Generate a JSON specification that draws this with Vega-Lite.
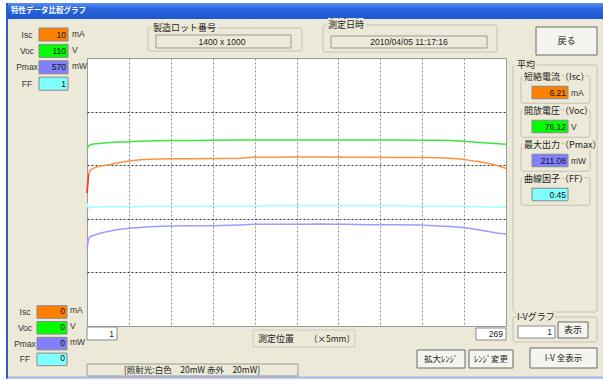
{
  "$schema": "https://vega.github.io/schema/vega-lite/v6.json",
  "width": 419,
  "height": 268,
  "autosize": "none",
  "padding": {"left": 87, "top": 58, "right": 97, "bottom": 54},
  "background": "#ECE9D8",
  "config": {
    "view": {"fill": "white", "stroke": "#9a9a9a"},
    "text": {"font": "Noto Sans CJK JP", "fontSize": 9, "color": "#222", "baseline": "middle"}
  },
  "datasets": {
    "trace": [
      {"pos": 1, "isc": 4.96, "voc": 72.6, "pmax": 165.3, "ff": 0.458},
      {"pos": 2, "isc": 5.67, "voc": 73.9, "pmax": 184.5, "ff": 0.44},
      {"pos": 3, "isc": 5.82, "voc": 74.3, "pmax": 190.0, "ff": 0.443},
      {"pos": 5, "isc": 5.88, "voc": 74.7, "pmax": 192.5, "ff": 0.444},
      {"pos": 7, "isc": 5.93, "voc": 74.85, "pmax": 194.8, "ff": 0.444},
      {"pos": 9, "isc": 5.96, "voc": 74.95, "pmax": 196.8, "ff": 0.445},
      {"pos": 12, "isc": 5.99, "voc": 75.1, "pmax": 199.5, "ff": 0.445},
      {"pos": 16, "isc": 6.03, "voc": 75.3, "pmax": 202.2, "ff": 0.445},
      {"pos": 21, "isc": 6.09, "voc": 75.5, "pmax": 205.0, "ff": 0.445},
      {"pos": 28, "isc": 6.16, "voc": 75.65, "pmax": 207.8, "ff": 0.445},
      {"pos": 35, "isc": 6.2, "voc": 75.85, "pmax": 209.6, "ff": 0.446},
      {"pos": 41, "isc": 6.22, "voc": 75.95, "pmax": 211.1, "ff": 0.446},
      {"pos": 54, "isc": 6.24, "voc": 76.1, "pmax": 212.7, "ff": 0.447},
      {"pos": 68, "isc": 6.245, "voc": 76.15, "pmax": 213.0, "ff": 0.447},
      {"pos": 81, "isc": 6.25, "voc": 76.2, "pmax": 213.3, "ff": 0.448},
      {"pos": 99, "isc": 6.26, "voc": 76.3, "pmax": 215.0, "ff": 0.448},
      {"pos": 107, "isc": 6.3, "voc": 76.3, "pmax": 216.3, "ff": 0.448},
      {"pos": 120, "isc": 6.3, "voc": 76.3, "pmax": 216.3, "ff": 0.449},
      {"pos": 134, "isc": 6.31, "voc": 76.3, "pmax": 216.3, "ff": 0.449},
      {"pos": 150, "isc": 6.31, "voc": 76.3, "pmax": 217.2, "ff": 0.449},
      {"pos": 166, "isc": 6.3, "voc": 76.3, "pmax": 216.5, "ff": 0.449},
      {"pos": 182, "isc": 6.3, "voc": 76.3, "pmax": 215.5, "ff": 0.449},
      {"pos": 198, "isc": 6.29, "voc": 76.3, "pmax": 215.5, "ff": 0.449},
      {"pos": 214, "isc": 6.29, "voc": 76.25, "pmax": 215.0, "ff": 0.448},
      {"pos": 226, "isc": 6.28, "voc": 76.2, "pmax": 212.8, "ff": 0.448},
      {"pos": 233, "isc": 6.26, "voc": 76.1, "pmax": 211.5, "ff": 0.447},
      {"pos": 240, "isc": 6.23, "voc": 75.9, "pmax": 209.9, "ff": 0.446},
      {"pos": 246, "isc": 6.18, "voc": 75.6, "pmax": 207.2, "ff": 0.446},
      {"pos": 252, "isc": 6.13, "voc": 75.35, "pmax": 204.2, "ff": 0.445},
      {"pos": 257, "isc": 6.07, "voc": 75.1, "pmax": 201.5, "ff": 0.444},
      {"pos": 262, "isc": 6.01, "voc": 74.9, "pmax": 198.4, "ff": 0.444},
      {"pos": 266, "isc": 5.94, "voc": 74.75, "pmax": 196.8, "ff": 0.443},
      {"pos": 269, "isc": 5.88, "voc": 74.6, "pmax": 195.7, "ff": 0.443}
    ],
    "readout": [
      {"series": "Isc", "max": "10", "min": "0", "unit": "mA", "name": "短絡電流（Isc）", "avg": "6.21"},
      {"series": "Voc", "max": "110", "min": "0", "unit": "V", "name": "開放電圧（Voc）", "avg": "76.12"},
      {"series": "Pmax", "max": "570", "min": "0", "unit": "mW", "name": "最大出力（Pmax）", "avg": "211.08"},
      {"series": "FF", "max": "1", "min": "0", "unit": "", "name": "曲線因子（FF）", "avg": "0.45"}
    ]
  },
  "layer": [
    {"data": {"values": [{}]}, "mark": {"type": "rect", "fill": "white"},
     "encoding": {"x": {"value": -87}, "x2": {"value": 516}, "y": {"value": -58}, "y2": {"value": -55}}},
    {"data": {"values": [{}]}, "mark": {"type": "rect", "fill": "white"},
     "encoding": {"x": {"value": -87}, "x2": {"value": -81}, "y": {"value": -58}, "y2": {"value": 322}}},
    {"data": {"values": [{}]}, "mark": {"type": "rect", "fill": "#F4F6FC"},
     "encoding": {"x": {"value": -87}, "x2": {"value": 516}, "y": {"value": 320.5}, "y2": {"value": 322}}},
    {"data": {"values": [{}]}, "mark": {"type": "rect", "fill": "#A3B4E6"},
     "encoding": {"x": {"value": -81}, "x2": {"value": 516}, "y": {"value": 318.5}, "y2": {"value": 320.5}}},
    {"data": {"values": [{}]}, "mark": {"type": "rect", "fill": "#2A5CD4"},
     "encoding": {"x": {"value": -81}, "x2": {"value": -79}, "y": {"value": -55}, "y2": {"value": 320.5}}},
    {"data": {"values": [{}]},
     "mark": {"type": "rect", "fill": {"gradient": "linear", "x1": 0, "y1": 0, "x2": 0, "y2": 1,
       "stops": [{"offset": 0, "color": "#5B90EC"}, {"offset": 0.35, "color": "#2A66DC"}, {"offset": 1, "color": "#1E57CE"}]}},
     "encoding": {"x": {"value": -79}, "x2": {"value": 516}, "y": {"value": -55}, "y2": {"value": -39}}},
    {"data": {"values": [{"t": "特性データ比較グラフ"}]},
     "mark": {"type": "text", "align": "left", "fontSize": 7.5, "fontWeight": "bold", "color": "white"},
     "encoding": {"text": {"field": "t"}, "x": {"value": -76}, "y": {"value": -47}}},

    {"data": {"values": [{}]}, "mark": {"type": "rect", "fill": null, "stroke": "#c4c1b1", "cornerRadius": 2},
     "encoding": {"x": {"value": 61}, "x2": {"value": 215}, "y": {"value": -30}, "y2": {"value": -7}}},
    {"data": {"values": [{"t": "製造ロット番号"}]},
     "mark": {"type": "text", "align": "left", "color": "#ECE9D8", "stroke": "#ECE9D8", "strokeWidth": 4},
     "encoding": {"text": {"field": "t"}, "x": {"value": 66}, "y": {"value": -30}}},
    {"data": {"values": [{"t": "製造ロット番号"}]}, "mark": {"type": "text", "align": "left"},
     "encoding": {"text": {"field": "t"}, "x": {"value": 66}, "y": {"value": -30}}},
    {"data": {"values": [{}]}, "mark": {"type": "rect", "fill": null, "stroke": "#9a9a9a"},
     "encoding": {"x": {"value": 69}, "x2": {"value": 204}, "y": {"value": -23}, "y2": {"value": -10}}},
    {"data": {"values": [{"t": "1400 x 1000"}]},
     "mark": {"type": "text", "align": "center", "font": "Liberation Sans", "fontSize": 8.5},
     "encoding": {"text": {"field": "t"}, "x": {"value": 135}, "y": {"value": -16}}},

    {"data": {"values": [{}]}, "mark": {"type": "rect", "fill": null, "stroke": "#c4c1b1", "cornerRadius": 2},
     "encoding": {"x": {"value": 236}, "x2": {"value": 410}, "y": {"value": -33}, "y2": {"value": -6}}},
    {"data": {"values": [{"t": "測定日時"}]},
     "mark": {"type": "text", "align": "left", "color": "#ECE9D8", "stroke": "#ECE9D8", "strokeWidth": 4},
     "encoding": {"text": {"field": "t"}, "x": {"value": 241}, "y": {"value": -33}}},
    {"data": {"values": [{"t": "測定日時"}]}, "mark": {"type": "text", "align": "left"},
     "encoding": {"text": {"field": "t"}, "x": {"value": 241}, "y": {"value": -33}}},
    {"data": {"values": [{}]}, "mark": {"type": "rect", "fill": null, "stroke": "#9a9a9a"},
     "encoding": {"x": {"value": 244}, "x2": {"value": 400}, "y": {"value": -22}, "y2": {"value": -10}}},
    {"data": {"values": [{"t": "2010/04/05 11:17:16"}]},
     "mark": {"type": "text", "align": "center", "font": "Liberation Sans", "fontSize": 8.5},
     "encoding": {"text": {"field": "t"}, "x": {"value": 322}, "y": {"value": -16}}},

    {"data": {"values": [{}]}, "mark": {"type": "rect", "fill": "#F5F4EF", "stroke": "#6a6a6a"},
     "encoding": {"x": {"value": 449}, "x2": {"value": 510}, "y": {"value": -31}, "y2": {"value": -3}}},
    {"data": {"values": [{"t": "戻る"}]}, "mark": {"type": "text", "align": "center"},
     "encoding": {"text": {"field": "t"}, "x": {"value": 479.5}, "y": {"value": -17}}},

    {"data": {"values": [{}]}, "mark": {"type": "rect", "fill": null, "stroke": "#c4c1b1", "cornerRadius": 2},
     "encoding": {"x": {"value": 426}, "x2": {"value": 510}, "y": {"value": 7}, "y2": {"value": 254}}},
    {"data": {"values": [{"t": "平均"}]},
     "mark": {"type": "text", "align": "left", "color": "#ECE9D8", "stroke": "#ECE9D8", "strokeWidth": 4},
     "encoding": {"text": {"field": "t"}, "x": {"value": 430}, "y": {"value": 7}}},
    {"data": {"values": [{"t": "平均"}]}, "mark": {"type": "text", "align": "left"},
     "encoding": {"text": {"field": "t"}, "x": {"value": 430}, "y": {"value": 7}}},

    {"data": {"values": [{}]}, "mark": {"type": "rect", "fill": null, "stroke": "#c4c1b1", "cornerRadius": 2},
     "encoding": {"x": {"value": 426}, "x2": {"value": 510}, "y": {"value": 259}, "y2": {"value": 284}}},
    {"data": {"values": [{"t": "I-Vグラフ"}]},
     "mark": {"type": "text", "align": "left", "color": "#ECE9D8", "stroke": "#ECE9D8", "strokeWidth": 4},
     "encoding": {"text": {"field": "t"}, "x": {"value": 430}, "y": {"value": 259}}},
    {"data": {"values": [{"t": "I-Vグラフ"}]}, "mark": {"type": "text", "align": "left"},
     "encoding": {"text": {"field": "t"}, "x": {"value": 430}, "y": {"value": 259}}},
    {"data": {"values": [{}]}, "mark": {"type": "rect", "fill": "white", "stroke": "#8a8a8a"},
     "encoding": {"x": {"value": 431}, "x2": {"value": 468}, "y": {"value": 268}, "y2": {"value": 280}}},
    {"data": {"values": [{"t": "1"}]}, "mark": {"type": "text", "align": "right", "font": "Liberation Sans", "fontSize": 8.5},
     "encoding": {"text": {"field": "t"}, "x": {"value": 465}, "y": {"value": 274}}},
    {"data": {"values": [{}]}, "mark": {"type": "rect", "fill": "#F5F4EF", "stroke": "#6a6a6a"},
     "encoding": {"x": {"value": 471}, "x2": {"value": 501}, "y": {"value": 264}, "y2": {"value": 280}}},
    {"data": {"values": [{"t": "表示"}]}, "mark": {"type": "text", "align": "center"},
     "encoding": {"text": {"field": "t"}, "x": {"value": 486}, "y": {"value": 272}}},

    {"data": {"values": [{}]}, "mark": {"type": "rect", "fill": "white", "stroke": "#8a8a8a"},
     "encoding": {"x": {"value": 0}, "x2": {"value": 30}, "y": {"value": 269}, "y2": {"value": 282}}},
    {"data": {"values": [{"t": "1"}]}, "mark": {"type": "text", "align": "right", "font": "Liberation Sans", "fontSize": 8.5},
     "encoding": {"text": {"field": "t"}, "x": {"value": 27}, "y": {"value": 275.5}}},
    {"data": {"values": [{}]}, "mark": {"type": "rect", "fill": "white", "stroke": "#8a8a8a"},
     "encoding": {"x": {"value": 389}, "x2": {"value": 419}, "y": {"value": 270}, "y2": {"value": 282}}},
    {"data": {"values": [{"t": "269"}]}, "mark": {"type": "text", "align": "right", "font": "Liberation Sans", "fontSize": 8.5},
     "encoding": {"text": {"field": "t"}, "x": {"value": 416}, "y": {"value": 276}}},
    {"data": {"values": [{}]}, "mark": {"type": "rect", "fill": null, "stroke": "#cfcbbd"},
     "encoding": {"x": {"value": 166}, "x2": {"value": 268}, "y": {"value": 272}, "y2": {"value": 289}}},
    {"data": {"values": [{"t": "測定位置"}]}, "mark": {"type": "text", "align": "left"},
     "encoding": {"text": {"field": "t"}, "x": {"value": 171}, "y": {"value": 280.5}}},
    {"data": {"values": [{"t": "（×5mm）"}]}, "mark": {"type": "text", "align": "left", "fontSize": 8.5},
     "encoding": {"text": {"field": "t"}, "x": {"value": 222}, "y": {"value": 280.5}}},
    {"data": {"values": [{}]}, "mark": {"type": "rect", "fill": null, "stroke": "#9a9a9a"},
     "encoding": {"x": {"value": 0}, "x2": {"value": 211}, "y": {"value": 306}, "y2": {"value": 318}}},
    {"data": {"values": [{"t": "[照射光:白色　20mW 赤外　20mW]"}]}, "mark": {"type": "text", "align": "center", "fontSize": 8.5},
     "encoding": {"text": {"field": "t"}, "x": {"value": 105}, "y": {"value": 312}}},

    {"data": {"values": [{}]}, "mark": {"type": "rect", "fill": "#F5F4EF", "stroke": "#6a6a6a"},
     "encoding": {"x": {"value": 330}, "x2": {"value": 378}, "y": {"value": 292}, "y2": {"value": 310}}},
    {"data": {"values": [{"t": "拡大ﾚﾝｼﾞ"}]}, "mark": {"type": "text", "align": "center", "fontSize": 8.5},
     "encoding": {"text": {"field": "t"}, "x": {"value": 354}, "y": {"value": 301}}},
    {"data": {"values": [{}]}, "mark": {"type": "rect", "fill": "#F5F4EF", "stroke": "#6a6a6a"},
     "encoding": {"x": {"value": 382}, "x2": {"value": 426}, "y": {"value": 292}, "y2": {"value": 310}}},
    {"data": {"values": [{"t": "ﾚﾝｼﾞ変更"}]}, "mark": {"type": "text", "align": "center", "fontSize": 8.5},
     "encoding": {"text": {"field": "t"}, "x": {"value": 404}, "y": {"value": 301}}},
    {"data": {"values": [{}]}, "mark": {"type": "rect", "fill": "#F5F4EF", "stroke": "#6a6a6a"},
     "encoding": {"x": {"value": 443}, "x2": {"value": 510}, "y": {"value": 290}, "y2": {"value": 310}}},
    {"data": {"values": [{"t": "I-V 全表示"}]}, "mark": {"type": "text", "align": "center", "fontSize": 8.5},
     "encoding": {"text": {"field": "t"}, "x": {"value": 476.5}, "y": {"value": 300}}},

    {"data": {"name": "readout"}, "mark": {"type": "rect", "stroke": "#8a8a8a", "strokeWidth": 1},
     "encoding": {
       "x": {"value": -48}, "x2": {"value": -19},
       "y": {"field": "series", "type": "nominal", "axis": null, "sort": null,
             "scale": {"type": "band", "domain": ["Isc", "Voc", "Pmax", "FF"], "range": [-31.7, 33.9], "paddingInner": 0.207, "paddingOuter": 0.1035}},
       "color": {"field": "series", "type": "nominal", "legend": null,
                 "scale": {"domain": ["Isc", "Voc", "Pmax", "FF"], "range": ["#FF8000", "#00FF00", "#8080FF", "#80FFFF"]}}}},
    {"data": {"name": "readout"}, "mark": {"type": "text", "align": "center", "font": "Liberation Sans", "fontSize": 8.5, "color": "#333"},
     "encoding": {"text": {"field": "series"}, "x": {"value": -60},
       "y": {"field": "series", "type": "nominal", "axis": null, "sort": null,
             "scale": {"type": "band", "domain": ["Isc", "Voc", "Pmax", "FF"], "range": [-31.7, 33.9], "paddingInner": 0.207, "paddingOuter": 0.1035}}}},
    {"data": {"name": "readout"}, "mark": {"type": "text", "align": "right", "font": "Liberation Sans", "fontSize": 8.5, "color": "#111"},
     "encoding": {"text": {"field": "max"}, "x": {"value": -21},
       "y": {"field": "series", "type": "nominal", "axis": null, "sort": null,
             "scale": {"type": "band", "domain": ["Isc", "Voc", "Pmax", "FF"], "range": [-31.7, 33.9], "paddingInner": 0.207, "paddingOuter": 0.1035}}}},
    {"data": {"name": "readout"}, "mark": {"type": "text", "align": "left", "font": "Liberation Sans", "fontSize": 8.5, "color": "#333", "dy": -1},
     "encoding": {"text": {"field": "unit"}, "x": {"value": -15},
       "y": {"field": "series", "type": "nominal", "axis": null, "sort": null,
             "scale": {"type": "band", "domain": ["Isc", "Voc", "Pmax", "FF"], "range": [-31.7, 33.9], "paddingInner": 0.207, "paddingOuter": 0.1035}}}},

    {"data": {"name": "readout"}, "mark": {"type": "rect", "stroke": "#8a8a8a", "strokeWidth": 1},
     "encoding": {
       "x": {"value": -50}, "x2": {"value": -20},
       "y": {"field": "series", "type": "nominal", "axis": null, "sort": null,
             "scale": {"type": "band", "domain": ["Isc", "Voc", "Pmax", "FF"], "range": [246.1, 309.3], "paddingInner": 0.209, "paddingOuter": 0.104}},
       "color": {"field": "series", "type": "nominal", "legend": null,
                 "scale": {"domain": ["Isc", "Voc", "Pmax", "FF"], "range": ["#FF8000", "#00FF00", "#8080FF", "#80FFFF"]}}}},
    {"data": {"name": "readout"}, "mark": {"type": "text", "align": "center", "font": "Liberation Sans", "fontSize": 8.5, "color": "#333"},
     "encoding": {"text": {"field": "series"}, "x": {"value": -62},
       "y": {"field": "series", "type": "nominal", "axis": null, "sort": null,
             "scale": {"type": "band", "domain": ["Isc", "Voc", "Pmax", "FF"], "range": [246.1, 309.3], "paddingInner": 0.209, "paddingOuter": 0.104}}}},
    {"data": {"name": "readout"}, "mark": {"type": "text", "align": "right", "font": "Liberation Sans", "fontSize": 8.5, "color": "#111", "dy": -1},
     "encoding": {"text": {"field": "min"}, "x": {"value": -22},
       "y": {"field": "series", "type": "nominal", "axis": null, "sort": null,
             "scale": {"type": "band", "domain": ["Isc", "Voc", "Pmax", "FF"], "range": [246.1, 309.3], "paddingInner": 0.209, "paddingOuter": 0.104}}}},
    {"data": {"name": "readout"}, "mark": {"type": "text", "align": "left", "font": "Liberation Sans", "fontSize": 8.5, "color": "#333", "dy": -2},
     "encoding": {"text": {"field": "unit"}, "x": {"value": -17},
       "y": {"field": "series", "type": "nominal", "axis": null, "sort": null,
             "scale": {"type": "band", "domain": ["Isc", "Voc", "Pmax", "FF"], "range": [246.1, 309.3], "paddingInner": 0.209, "paddingOuter": 0.104}}}},

    {"data": {"name": "readout"}, "mark": {"type": "rect", "fill": null, "stroke": "#c4c1b1", "cornerRadius": 2},
     "encoding": {
       "x": {"value": 434}, "x2": {"value": 503},
       "y": {"field": "series", "type": "nominal", "axis": null, "sort": null,
             "scale": {"type": "band", "domain": ["Isc", "Voc", "Pmax", "FF"], "range": [14.5, 150.5], "paddingInner": 0.191, "paddingOuter": 0.0956}}}},
    {"data": {"name": "readout"}, "mark": {"type": "rect", "stroke": "#8a8a8a", "strokeWidth": 1},
     "encoding": {
       "x": {"value": 445}, "x2": {"value": 481},
       "y": {"field": "series", "type": "nominal", "axis": null, "sort": null,
             "scale": {"type": "band", "domain": ["Isc", "Voc", "Pmax", "FF"], "range": [17.5, 153.5], "paddingInner": 0.632, "paddingOuter": 0.316}},
       "color": {"field": "series", "type": "nominal", "legend": null,
                 "scale": {"domain": ["Isc", "Voc", "Pmax", "FF"], "range": ["#FF8000", "#00FF00", "#8080FF", "#80FFFF"]}}}},
    {"data": {"name": "readout"}, "mark": {"type": "text", "align": "left", "dy": -16, "color": "#ECE9D8", "stroke": "#ECE9D8", "strokeWidth": 4},
     "encoding": {"text": {"field": "name"}, "x": {"value": 437},
       "y": {"field": "series", "type": "nominal", "axis": null, "sort": null,
             "scale": {"type": "band", "domain": ["Isc", "Voc", "Pmax", "FF"], "range": [17.5, 153.5], "paddingInner": 0.632, "paddingOuter": 0.316}}}},
    {"data": {"name": "readout"}, "mark": {"type": "text", "align": "left", "dy": -16},
     "encoding": {"text": {"field": "name"}, "x": {"value": 437},
       "y": {"field": "series", "type": "nominal", "axis": null, "sort": null,
             "scale": {"type": "band", "domain": ["Isc", "Voc", "Pmax", "FF"], "range": [17.5, 153.5], "paddingInner": 0.632, "paddingOuter": 0.316}}}},
    {"data": {"name": "readout"}, "mark": {"type": "text", "align": "right", "font": "Liberation Sans", "fontSize": 8.5, "color": "#111"},
     "encoding": {"text": {"field": "avg"}, "x": {"value": 479},
       "y": {"field": "series", "type": "nominal", "axis": null, "sort": null,
             "scale": {"type": "band", "domain": ["Isc", "Voc", "Pmax", "FF"], "range": [17.5, 153.5], "paddingInner": 0.632, "paddingOuter": 0.316}}}},
    {"data": {"name": "readout"}, "mark": {"type": "text", "align": "left", "font": "Liberation Sans", "fontSize": 8.5, "color": "#333"},
     "encoding": {"text": {"field": "unit"}, "x": {"value": 484},
       "y": {"field": "series", "type": "nominal", "axis": null, "sort": null,
             "scale": {"type": "band", "domain": ["Isc", "Voc", "Pmax", "FF"], "range": [17.5, 153.5], "paddingInner": 0.632, "paddingOuter": 0.316}}}},

    {
      "data": {"name": "trace"},
      "encoding": {
        "x": {"field": "pos", "type": "quantitative",
              "scale": {"domain": [1, 269], "nice": false, "zero": false},
              "axis": {"values": [27.8, 54.6, 81.4, 108.2, 135, 161.8, 188.6, 215.4, 242.2],
                       "grid": true, "gridColor": "#8c8c8c", "gridDash": [2, 2], "gridWidth": 1,
                       "labels": false, "ticks": false, "domain": false, "title": null}}
      },
      "layer": [
        {"mark": {"type": "line", "color": "#A0FFFF", "strokeWidth": 1.5},
         "encoding": {"y": {"field": "ff", "type": "quantitative",
           "scale": {"domain": [0, 1], "nice": false},
           "axis": {"values": [0.2, 0.4, 0.6, 0.8], "grid": true, "gridColor": "#333", "gridDash": [2, 2], "gridWidth": 1,
                    "labels": false, "ticks": false, "domain": false, "title": null}}}},
        {"mark": {"type": "line", "color": "#9C9CFF", "strokeWidth": 1.5},
         "encoding": {"y": {"field": "pmax", "type": "quantitative", "scale": {"domain": [0, 570], "nice": false}, "axis": null}}},
        {"mark": {"type": "line", "color": "#FF9040", "strokeWidth": 1.5},
         "encoding": {"y": {"field": "isc", "type": "quantitative", "scale": {"domain": [0, 10], "nice": false}, "axis": null}}},
        {"transform": [{"filter": "datum.pos <= 2"}],
         "mark": {"type": "line", "color": "#EE3333", "strokeWidth": 1.5},
         "encoding": {"y": {"field": "isc", "type": "quantitative", "scale": {"domain": [0, 10], "nice": false}, "axis": null}}},
        {"mark": {"type": "line", "color": "#3CE83C", "strokeWidth": 1.5},
         "encoding": {"y": {"field": "voc", "type": "quantitative", "scale": {"domain": [0, 110], "nice": false}, "axis": null}}}
      ],
      "resolve": {"scale": {"y": "independent"}}
    }
  ],
  "resolve": {"scale": {"y": "independent"}}
}
